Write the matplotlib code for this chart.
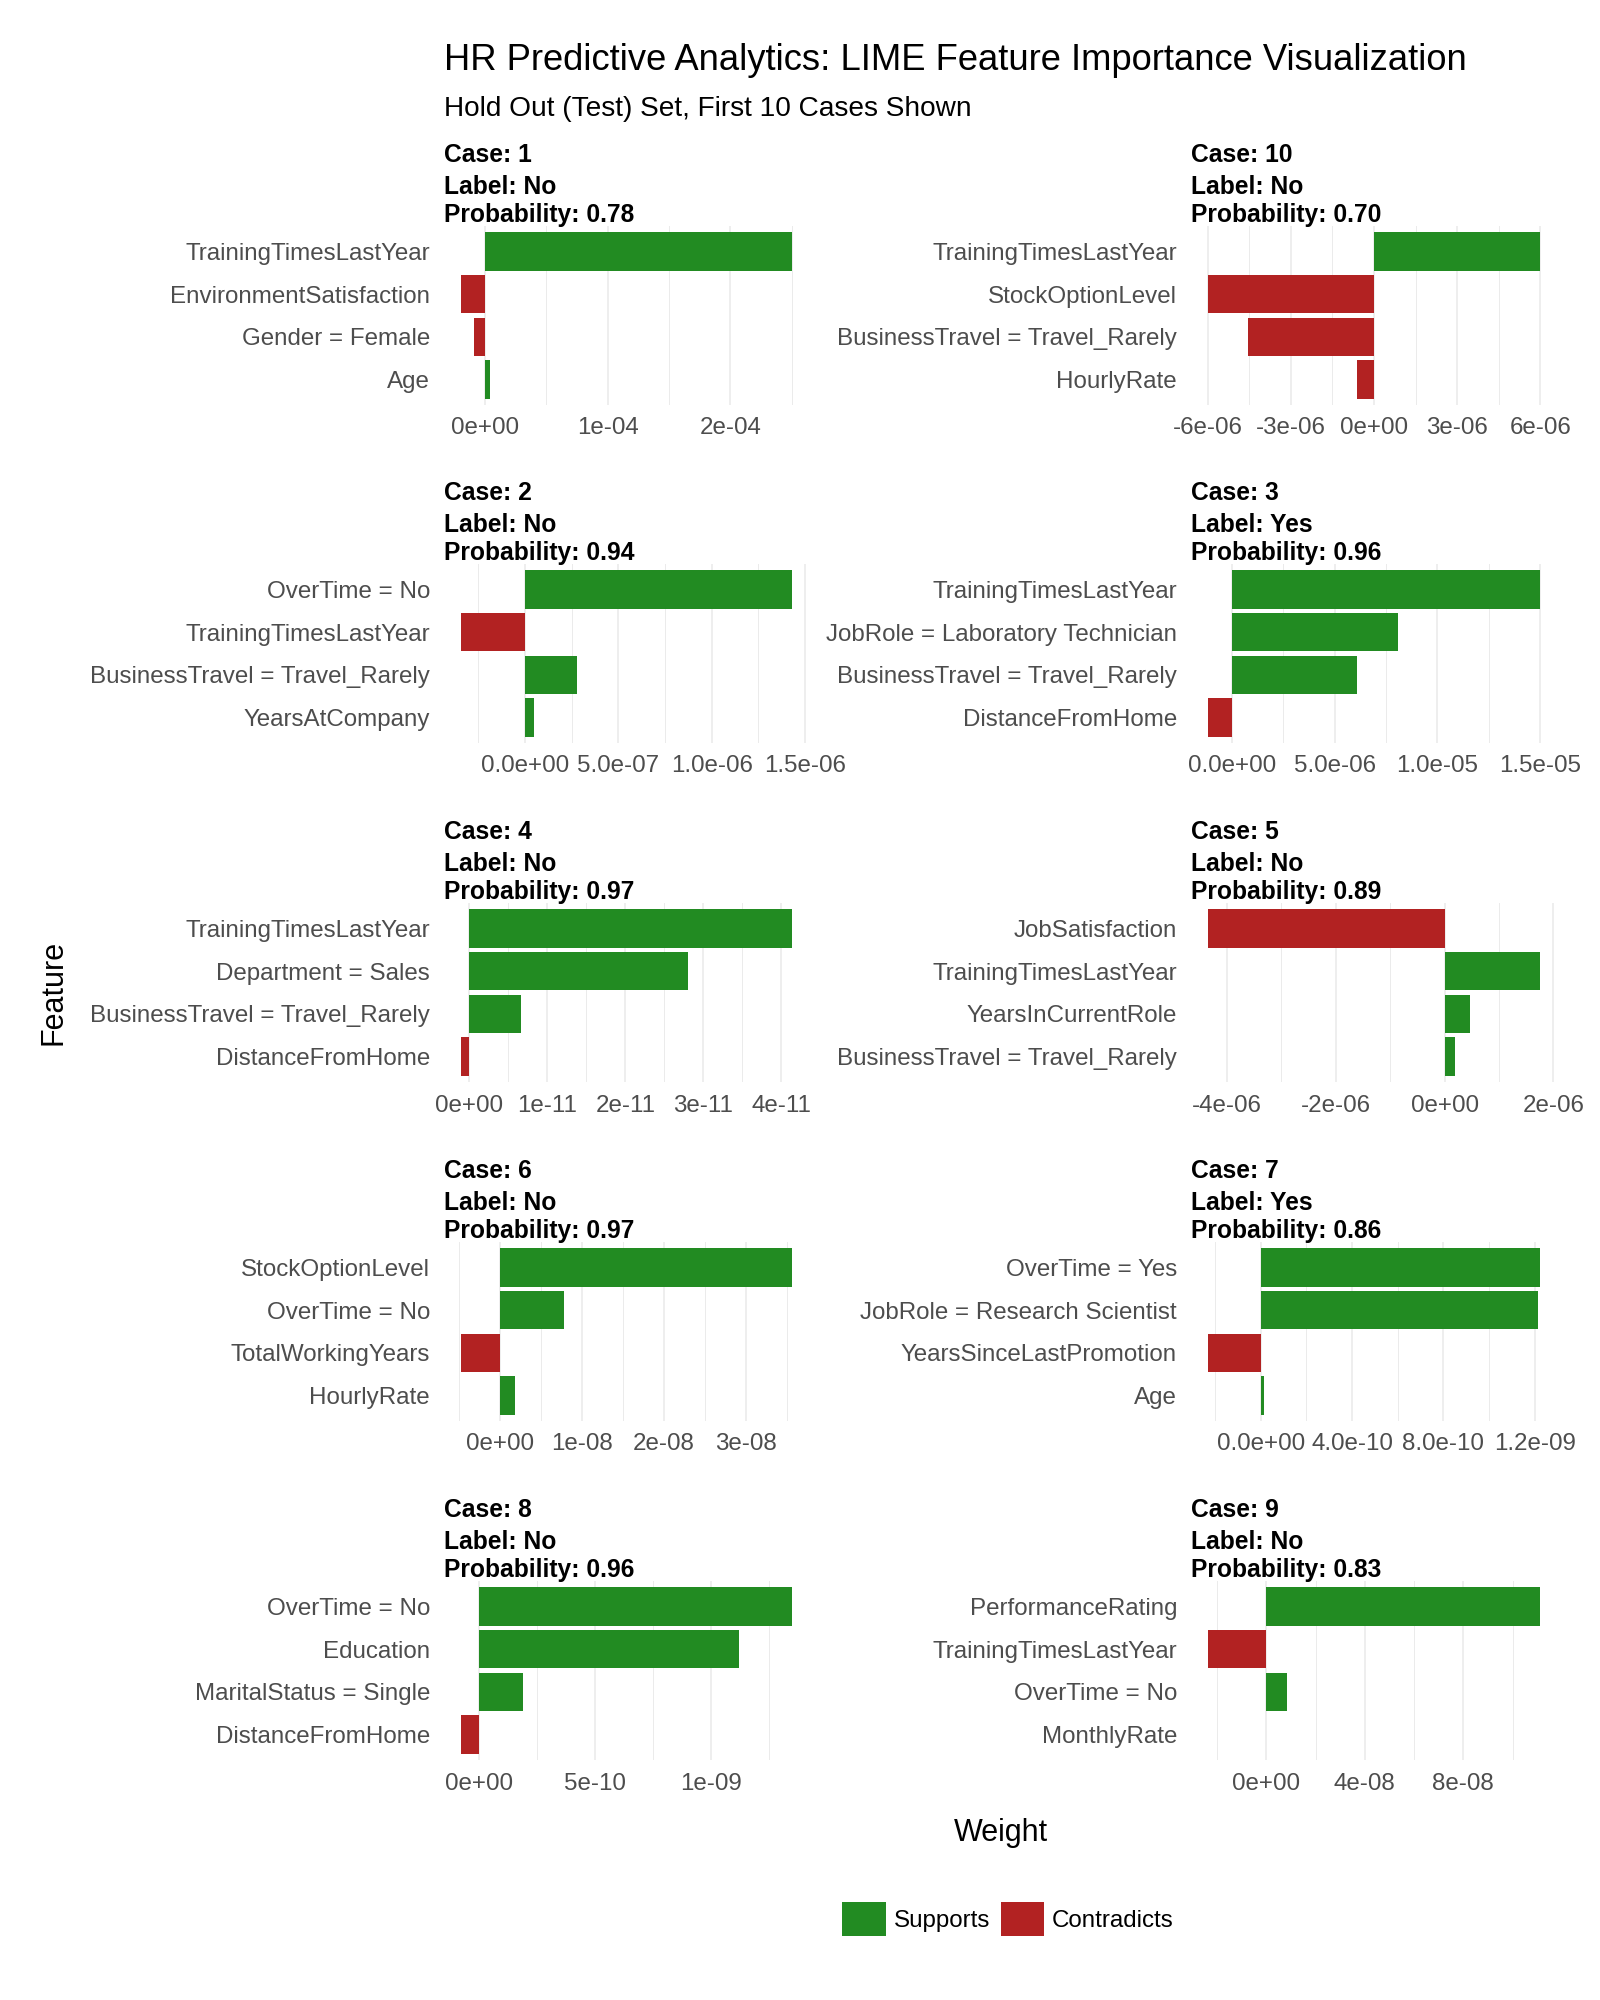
import matplotlib
matplotlib.use("Agg")
import matplotlib.pyplot as plt
from matplotlib.patches import Patch
import numpy as np

plt.rcParams['font.family'] = ['Liberation Sans', 'DejaVu Sans']

# facet order as ggplot sorts it (character case ids)
case_ids = ["1", "10", "2", "3", "4", "5", "6", "7", "8", "9"]
case_labels = ["No", "No", "No", "Yes", "No", "No", "No", "Yes", "No", "No"]
case_probs = [0.78, 0.70, 0.94, 0.96, 0.97, 0.89, 0.97, 0.86, 0.96, 0.83]

features_c1 = ["TrainingTimesLastYear", "EnvironmentSatisfaction", "Gender = Female", "Age"]
weights_c1 = [2.507e-4, -2.0e-5, -8.7e-6, 4.2e-6]
ticks_c1 = [0, 1e-4, 2e-4]
ticklabels_c1 = ["0e+00", "1e-04", "2e-04"]

features_c10 = ["TrainingTimesLastYear", "StockOptionLevel", "BusinessTravel = Travel_Rarely", "HourlyRate"]
weights_c10 = [6.0e-6, -6.0e-6, -4.55e-6, -6.1e-7]
ticks_c10 = [-6e-6, -3e-6, 0, 3e-6, 6e-6]
ticklabels_c10 = ["-6e-06", "-3e-06", "0e+00", "3e-06", "6e-06"]

features_c2 = ["OverTime = No", "TrainingTimesLastYear", "BusinessTravel = Travel_Rarely", "YearsAtCompany"]
weights_c2 = [1.432e-6, -3.44e-7, 2.79e-7, 4.9e-8]
ticks_c2 = [0, 5e-7, 1e-6, 1.5e-6]
ticklabels_c2 = ["0.0e+00", "5.0e-07", "1.0e-06", "1.5e-06"]

features_c3 = ["TrainingTimesLastYear", "JobRole = Laboratory Technician", "BusinessTravel = Travel_Rarely", "DistanceFromHome"]
weights_c3 = [1.5e-5, 8.10e-6, 6.11e-6, -1.17e-6]
ticks_c3 = [0, 5e-6, 1e-5, 1.5e-5]
ticklabels_c3 = ["0.0e+00", "5.0e-06", "1.0e-05", "1.5e-05"]

features_c4 = ["TrainingTimesLastYear", "Department = Sales", "BusinessTravel = Travel_Rarely", "DistanceFromHome"]
weights_c4 = [4.14e-11, 2.80e-11, 6.67e-12, -1.1e-12]
ticks_c4 = [0, 1e-11, 2e-11, 3e-11, 4e-11]
ticklabels_c4 = ["0e+00", "1e-11", "2e-11", "3e-11", "4e-11"]

features_c5 = ["JobSatisfaction", "TrainingTimesLastYear", "YearsInCurrentRole", "BusinessTravel = Travel_Rarely"]
weights_c5 = [-4.35e-6, 1.76e-6, 4.6e-7, 1.9e-7]
ticks_c5 = [-4e-6, -2e-6, 0, 2e-6]
ticklabels_c5 = ["-4e-06", "-2e-06", "0e+00", "2e-06"]

features_c6 = ["StockOptionLevel", "OverTime = No", "TotalWorkingYears", "HourlyRate"]
weights_c6 = [3.57e-8, 7.8e-9, -4.85e-9, 1.8e-9]
ticks_c6 = [0, 1e-8, 2e-8, 3e-8]
ticklabels_c6 = ["0e+00", "1e-08", "2e-08", "3e-08"]

features_c7 = ["OverTime = Yes", "JobRole = Research Scientist", "YearsSinceLastPromotion", "Age"]
weights_c7 = [1.225e-9, 1.216e-9, -2.32e-10, 1.6e-11]
ticks_c7 = [0, 4e-10, 8e-10, 1.2e-9]
ticklabels_c7 = ["0.0e+00", "4.0e-10", "8.0e-10", "1.2e-09"]

features_c8 = ["OverTime = No", "Education", "MaritalStatus = Single", "DistanceFromHome"]
weights_c8 = [1.349e-9, 1.118e-9, 1.91e-10, -7.9e-11]
ticks_c8 = [0, 5e-10, 1e-9]
ticklabels_c8 = ["0e+00", "5e-10", "1e-09"]

features_c9 = ["PerformanceRating", "TrainingTimesLastYear", "OverTime = No", "MonthlyRate"]
weights_c9 = [1.113e-7, -2.38e-8, 8.3e-9, 1e-10]
ticks_c9 = [0, 4e-8, 8e-8]
ticklabels_c9 = ["0e+00", "4e-08", "8e-08"]

all_features = [features_c1, features_c10, features_c2, features_c3, features_c4,
                features_c5, features_c6, features_c7, features_c8, features_c9]
all_weights = [weights_c1, weights_c10, weights_c2, weights_c3, weights_c4,
               weights_c5, weights_c6, weights_c7, weights_c8, weights_c9]
all_ticks = [ticks_c1, ticks_c10, ticks_c2, ticks_c3, ticks_c4,
             ticks_c5, ticks_c6, ticks_c7, ticks_c8, ticks_c9]
all_ticklabels = [ticklabels_c1, ticklabels_c10, ticklabels_c2, ticklabels_c3, ticklabels_c4,
                  ticklabels_c5, ticklabels_c6, ticklabels_c7, ticklabels_c8, ticklabels_c9]

GREEN = "#228B22"
RED = "#B22222"
GRID = "#EBEBEB"
TICK_COL = "#4D4D4D"

W, H = 1600, 2000
fig = plt.figure(figsize=(16, 20), dpi=100)

# panel geometry in pixels
col_left = [444, 1191]
col_width = [365, 366]
row_top = [226, 564, 903, 1242, 1581]
panel_h = 179

for k in range(len(case_ids)):
    r, c = divmod(k, 2)
    ax = fig.add_axes([col_left[c] / W, 1 - (row_top[r] + panel_h) / H,
                       col_width[c] / W, panel_h / H])
    feats = all_features[k]
    w = np.array(all_weights[k])
    ypos = np.arange(len(feats))[::-1]
    colors = [GREEN if v >= 0 else RED for v in w]
    ax.barh(ypos, w, height=0.9, color=colors, zorder=2)

    # ggplot style 5% expansion, bars always include zero
    lo, hi = min(w.min(), 0), max(w.max(), 0)
    span = hi - lo
    xlo, xhi = lo - 0.05 * span, hi + 0.05 * span
    ax.set_xlim(xlo, xhi)
    ax.set_ylim(-0.6, len(feats) - 1 + 0.6)

    ticks = all_ticks[k]
    step = ticks[1] - ticks[0]
    minors = np.arange(ticks[0] - step / 2, ticks[-1] + step, step)
    minors = minors[(minors >= xlo) & (minors <= xhi)]
    ax.set_xticks(ticks)
    ax.set_xticklabels(all_ticklabels[k])
    ax.set_xticks(minors, minor=True)
    ax.set_yticks(ypos)
    ax.set_yticklabels(feats)

    ax.grid(axis='x', which='major', color=GRID, linewidth=1.2, zorder=0)
    ax.grid(axis='x', which='minor', color=GRID, linewidth=0.7, zorder=0)
    ax.set_axisbelow(True)
    for s in ax.spines.values():
        s.set_visible(False)
    ax.tick_params(axis='x', which='both', length=0, pad=9, labelsize=17.4, labelcolor=TICK_COL)
    ax.tick_params(axis='y', length=0, pad=10, labelsize=17.4, labelcolor=TICK_COL)

    strip = ["Case: " + case_ids[k], "Label: " + case_labels[k],
             "Probability: {:.2f}".format(case_probs[k])]
    for line, off in zip(strip, [50.8, 28.4, 7.6]):
        ax.annotate(line, xy=(0, 1), xycoords='axes fraction', xytext=(0, off),
                    textcoords='offset points', ha='left', va='center',
                    fontsize=17.7, fontweight='bold', color='black')

fig.text(444 / W, 1 - 61 / H, "HR Predictive Analytics: LIME Feature Importance Visualization",
         ha='left', va='center', fontsize=26.2, color='black')
fig.text(444 / W, 1 - 109 / H, "Hold Out (Test) Set, First 10 Cases Shown",
         ha='left', va='center', fontsize=20.2, color='black')

fig.text(54 / W, 1 - 992 / H, "Feature", rotation=90, ha='center', va='center', fontsize=22)
fig.text(1001 / W, 1 - 1833 / H, "Weight", ha='center', va='center', fontsize=22)

handles = [Patch(facecolor=GREEN, edgecolor='none', label="Supports"),
           Patch(facecolor=RED, edgecolor='none', label="Contradicts")]
fig.legend(handles=handles, loc='center', bbox_to_anchor=(1008 / W, 1 - 1919 / H),
           ncol=2, frameon=False, fontsize=17.4, handlelength=1.8, handleheight=1.8,
           handletextpad=0.33, columnspacing=0.45, borderpad=0)

fig.savefig("out.png", dpi=100)
